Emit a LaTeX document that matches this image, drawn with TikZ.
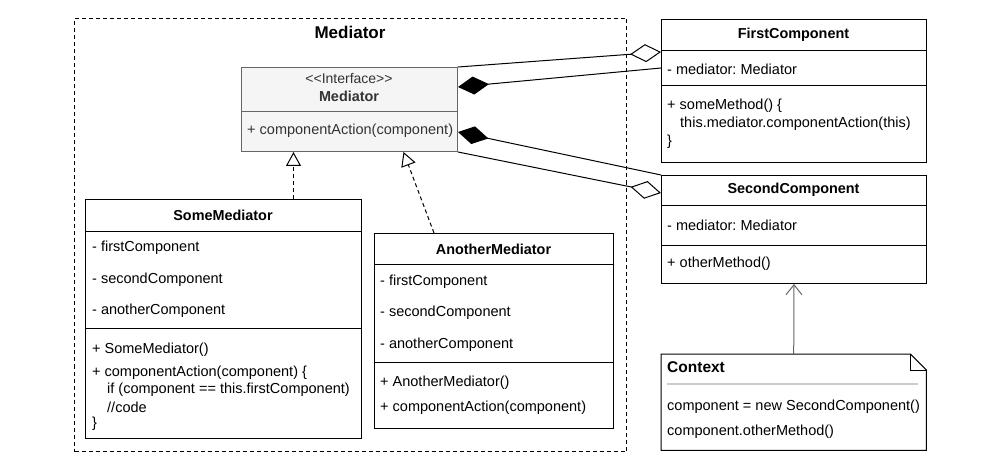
\documentclass[tikz,border=0pt]{standalone}
\usepackage{fontspec}
\setmainfont{Liberation Sans}
\usetikzlibrary{arrows.meta}
\frenchspacing
\definecolor{ifacefill}{HTML}{F5F5F5}
\definecolor{ifaceline}{HTML}{666666}
\definecolor{ifacetext}{HTML}{333333}
\tikzset{
  cls/.style={draw, line width=1pt, anchor=north west, inner sep=0pt, fill=white},
  item/.style={anchor=west, inner sep=0pt, font=\fontsize{14.5}{17}\selectfont},
  ctitle/.style={inner sep=0pt, font=\bfseries\fontsize{14.4}{17}\selectfont},
  sep/.style={line width=1pt},
  agg/.style={line width=1pt, -{Diamond[open, length=31pt, width=18pt]}},
  comp/.style={line width=1pt, -{Diamond[length=31pt, width=18pt]}},
  realize/.style={line width=1pt, dash pattern=on 4pt off 3pt, -{Triangle[open, length=14pt, width=15pt]}},
  dep/.style={line width=1pt, ifaceline, -{Straight Barb[length=10pt, width=16pt]}}
}
\begin{document}
\begin{tikzpicture}[x=1pt, y=-1pt]
\useasboundingbox (0,0) rectangle (1000,470);

% package frame
\node[draw, line width=1pt, dash pattern=on 4pt off 3pt, anchor=north west, inner sep=0pt,
      minimum width=552pt, minimum height=433pt] (pkg) at (74,18) {};
\node[inner sep=0pt, font=\bfseries\fontsize{17}{20}\selectfont] (pkgtitle) at (350,32) {Mediator};

% interface
\node[cls, draw=ifaceline, fill=ifacefill, minimum width=216pt, minimum height=84pt] (med) at (241,67) {};
\node[inner sep=0pt, text=ifacetext, font=\fontsize{14}{16}\selectfont] (medst) at (349,79) {<{}<Interface>{}>};
\node[ctitle, text=ifacetext] (medname) at (349,96) {Mediator};
\draw[sep, ifaceline] (med.west |- 0,112) -- (med.east |- 0,112);
\node[item, text=ifacetext] (medop) at (247,131) {+ componentAction(component)};

% SomeMediator
\node[cls, minimum width=276pt, minimum height=239pt] (sm) at (85,199) {};
\node[ctitle] (smname) at (223,215) {SomeMediator};
\draw[sep] (sm.west |- 0,232) -- (sm.east |- 0,232);
\node[item] (sma) at (92,248) {- firstComponent};
\node[item] (smb) at (92,280) {- secondComponent};
\node[item] (smc) at (92,311) {- anotherComponent};
\draw[sep] (sm.west |- 0,328) -- (sm.east |- 0,328);
\node[item] (smd) at (92,350) {+ SomeMediator()};
\node[item] (sme) at (92,373) {+ componentAction(component) \{};
\node[item] (smf) at (107,390) {if (component == this.firstComponent)};
\node[item] (smg) at (107,407) {//code};
\node[item] (smh) at (92,424) {\}};

% AnotherMediator
\node[cls, minimum width=239pt, minimum height=195pt] (am) at (374,233) {};
\node[ctitle] (amname) at (493.5,249) {AnotherMediator};
\draw[sep] (am.west |- 0,264) -- (am.east |- 0,264);
\node[item] (ama) at (380,282) {- firstComponent};
\node[item] (amb) at (380,313) {- secondComponent};
\node[item] (amc) at (380,345) {- anotherComponent};
\draw[sep] (am.west |- 0,362) -- (am.east |- 0,362);
\node[item] (amd) at (380,383) {+ AnotherMediator()};
\node[item] (ame) at (380,408) {+ componentAction(component)};

% FirstComponent
\node[cls, minimum width=265pt, minimum height=143pt] (fc) at (661,19) {};
\node[ctitle] (fcname) at (793.5,35) {FirstComponent};
\draw[sep] (fc.west |- 0,51) -- (fc.east |- 0,51);
\node[item] (fca) at (667,69) {- mediator: Mediator};
\draw[sep] (fc.west |- 0,86) -- (fc.east |- 0,86);
\node[item] (fcb) at (667,106) {+ someMethod() \{};
\node[item] (fcc) at (680,124) {this.mediator.componentAction(this)};
\node[item] (fcd) at (667,142) {\}};

% SecondComponent
\node[cls, minimum width=265pt, minimum height=108pt] (sc) at (661,175) {};
\node[ctitle] (scname) at (793.5,190) {SecondComponent};
\draw[sep] (sc.west |- 0,206) -- (sc.east |- 0,206);
\node[item] (sca) at (667,225) {- mediator: Mediator};
\draw[sep] (sc.west |- 0,245) -- (sc.east |- 0,245);
\node[item] (scb) at (667,264) {+ otherMethod()};

% Context note
\node[anchor=north west, inner sep=0pt, minimum width=265pt, minimum height=96pt] (ctx) at (661,354) {};
\draw[line width=1pt, fill=white] (ctx.north west) -- ([xshift=-16pt]ctx.north east)
  -- ([yshift=-16pt]ctx.north east) -- (ctx.south east) -- (ctx.south west) -- cycle;
\draw[line width=1pt] ([xshift=-16pt]ctx.north east) -- ([xshift=-16pt, yshift=-16pt]ctx.north east)
  -- ([yshift=-16pt]ctx.north east);
\node[anchor=west, inner sep=0pt, font=\bfseries\fontsize{15.5}{18}\selectfont] (ctxname) at (667,367) {Context};
\draw[line width=2pt, black!20] (667,384) -- (918,384);
\node[item] (ctxa) at (667,407) {component = new SecondComponent()};
\node[item] (ctxb) at (667,432) {component.otherMethod()};

% relations
\draw[agg] (med.north east) -- ([yshift=-33pt]fc.north west);
\draw[comp] ([yshift=-49pt]fc.north west) -- ([yshift=-20pt]med.north east);
\draw[comp] (sc.north west) -- ([yshift=20pt]med.south east);
\draw[agg] (med.south east) -- ([yshift=-18pt]sc.north west);
\draw[realize] ([xshift=70pt]sm.north) -- ([xshift=-56pt]med.south);
\draw[realize] ([xshift=-60pt]am.north) -- ([xshift=54pt]med.south);
\draw[dep] (ctx.north) -- (sc.south);
\end{tikzpicture}
\end{document}
